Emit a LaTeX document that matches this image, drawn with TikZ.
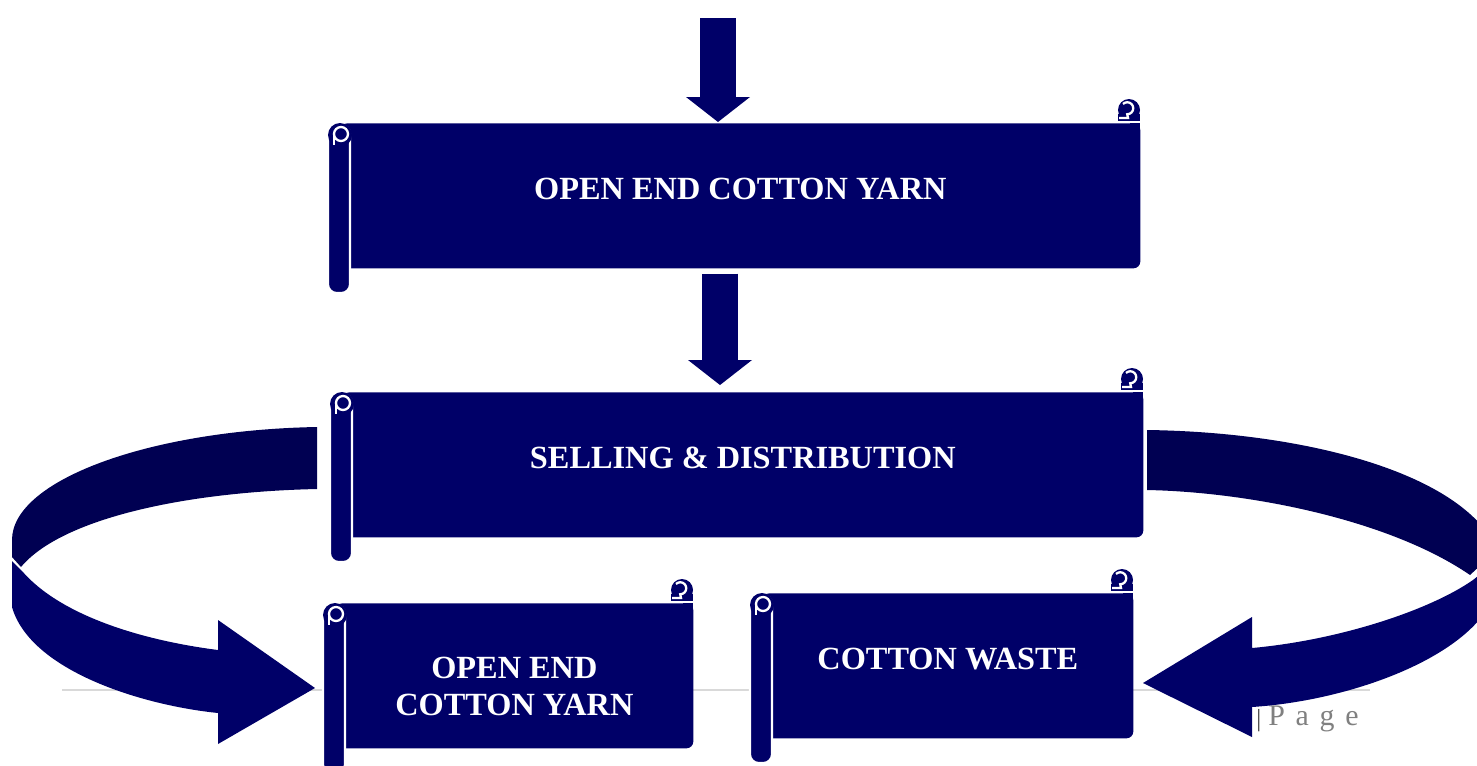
\documentclass[tikz,border=0pt]{standalone}
\usepackage{fontspec}
\setmainfont{Liberation Serif}
\usetikzlibrary{calc}

\definecolor{navy}{RGB}{0,0,104}
\definecolor{deepnavy}{RGB}{0,0,82}
\definecolor{pagegray}{RGB}{128,128,128}
\definecolor{rulegray}{RGB}{217,217,217}

\tikzset{
  scrollbody/.style={fill=navy, rounded corners=4pt, inner sep=0pt, anchor=north west},
  scrolltext/.style={text=white, font=\fontsize{18.4}{21}\selectfont\bfseries, align=center},
  curl/.style={white, line width=1.3pt},
  shaft/.style={navy, line width=21pt},
}

% scroll: name, body left, top, right, bottom, text shift, text
\newcommand{\scrollbox}[7]{%
  \fill[navy] (#4-11,#3-13) circle (11);
  \fill[navy] (#4-22,#3-9) rectangle (#4,#3-2);
  \draw[curl] (#4-17,#3-19) arc[start angle=225, end angle=450, radius=6] -- (#4-12,#3-5) -- (#4-21,#3-5);
  \node[scrollbody, minimum width={(#4-#2+15)*0.02cm}, minimum height={(#5-#3)*0.02cm}] (#1) at (#2-15,#3) {};
  \fill[navy] (#4-10,#3) rectangle (#4,#3+10);
  \filldraw[navy, draw=white, line width=1.2pt, rounded corners=5pt] (#2-27,#3+2) rectangle (#2-5,#5+25);
  \fill[navy] (#2-15,#3+12) circle (12);
  \draw[curl] (#2-14,#3+11) circle (7);
  \draw[curl] (#2-21,#3+11) -- (#2-21,#3+22);
  \node[scrolltext] (#1-text) at ($(#1.center)+(0,#6)$) {#7};
}

\begin{document}
\begin{tikzpicture}[x=0.02cm, y=-0.02cm]
  \useasboundingbox (0,0) rectangle (1477,765);
  \clip (0,0) rectangle (1477,765);

  % page footer
  \draw[rulegray, line width=0.9pt] (62,690) -- (1370,690);
  \node[text=darkgray, font=\fontsize{14}{14}\selectfont, anchor=base west, inner sep=0pt] (bar) at (1256,726) {|};
  \node[text=pagegray, font=\fontsize{17}{17}\selectfont, anchor=base west, inner sep=0pt] (page) at (1268,725) {P\hspace{0.36em}a\hspace{0.36em}g\hspace{0.36em}e};

  % left turning arrow
  \fill[deepnavy] (317,427) .. controls (150,430) and (12,480) .. (12,540) -- (12,557) -- (21,567) .. controls (60,520) and (180,492) .. (317,489) -- cycle;
  \fill[navy] (12,561) -- (12,607) .. controls (30,670) and (140,705) .. (218,713) -- (218,744) -- (315,688) -- (218,620) -- (218,650) .. controls (140,640) and (60,615) .. (22,571) -- cycle;

  % right turning arrow
  \fill[deepnavy] (1147,430) .. controls (1300,432) and (1450,470) .. (1492,540) -- (1484,562) -- (1470,575) .. controls (1390,520) and (1250,492) .. (1147,490) -- cycle;
  \fill[navy] (1473,580) -- (1488,568) -- (1497,575) -- (1497,585) .. controls (1485,650) and (1360,700) .. (1252,707) -- (1252,737) -- (1143,683) -- (1252,617) -- (1252,648) .. controls (1340,640) and (1430,610) .. (1473,580) -- cycle;

  % scrolls
  \scrollbox{yarn}{355}{123}{1140}{268}{-7}{OPEN END COTTON YARN}
  \scrollbox{sell}{357}{392}{1143}{537}{-7}{SELLING \& DISTRIBUTION}
  \scrollbox{oeyarn}{350}{603}{693}{748}{11}{OPEN END\\COTTON YARN}
  \scrollbox{waste}{777}{593}{1133}{738}{-7}{COTTON WASTE}

  % straight arrows
  \coordinate (top) at (718,18);
  \coordinate (t1) at ($(top |- yarn.north)+(0,-1)$);
  \draw[shaft] (top) -- ($(t1)+(0,-24)$);
  \fill[navy] (t1) -- ++(-32,-25) -- ++(64,0) -- cycle;
  \coordinate (o1) at ($(t1 |- yarn.south)+(2,5)$);
  \coordinate (t2) at ($(o1 |- sell.north)+(0,-7)$);
  \draw[shaft] (o1) -- ($(t2)+(0,-24)$);
  \fill[navy] (t2) -- ++(-32,-25) -- ++(64,0) -- cycle;
\end{tikzpicture}
\end{document}
